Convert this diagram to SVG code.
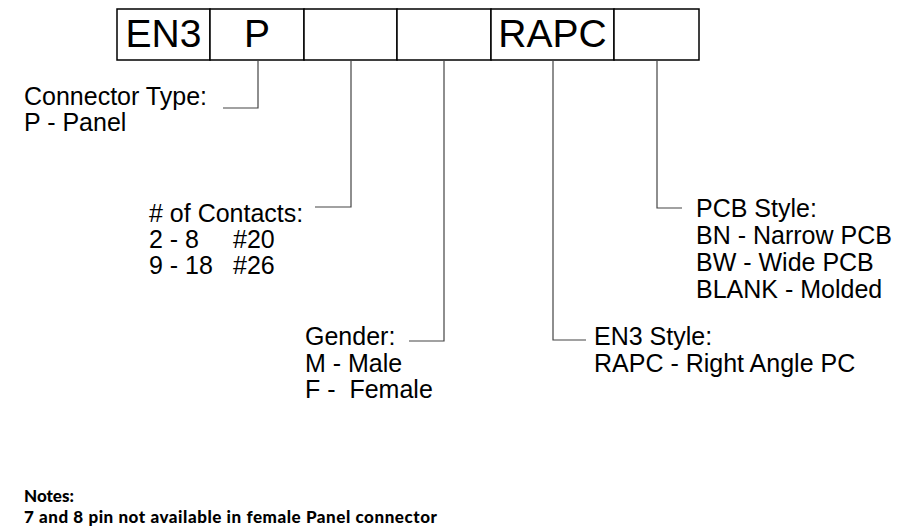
<svg xmlns="http://www.w3.org/2000/svg" width="907" height="527" viewBox="0 0 907 527">
<style>
.box{fill:#fff;stroke:#000;stroke-width:1.5}
.bt{font-family:"Liberation Sans",Arial,sans-serif;font-size:39px;fill:#000;text-anchor:middle}
.lb{font-family:"Liberation Sans",Arial,sans-serif;font-size:25px;fill:#000}
.cn{fill:none;stroke:#444;stroke-width:1.2}
.nt{font-family:Lato,"Open Sans",sans-serif;font-weight:900;font-size:17px;fill:#000}
</style>
<rect width="907" height="527" fill="#fff"/>
<g id="code">
<g id="box-en3"><rect class="box" x="117" y="9" width="93" height="51"/><text class="bt" x="163.5" y="47">EN3</text></g>
<g id="box-type"><rect class="box" x="210" y="9" width="94" height="51"/><text class="bt" x="257" y="47">P</text></g>
<g id="box-contacts"><rect class="box" x="304" y="9" width="93" height="51"/></g>
<g id="box-gender"><rect class="box" x="397" y="9" width="94" height="51"/></g>
<g id="box-style"><rect class="box" x="491" y="9" width="123" height="51"/><text class="bt" x="552.5" y="47">RAPC</text></g>
<g id="box-pcb"><rect class="box" x="614" y="9" width="85" height="51"/></g>
</g>
<g id="connectors">
<polyline class="cn" points="258,60 258,108 223,108"/>
<polyline class="cn" points="351,60 351,207 315,207"/>
<polyline class="cn" points="444,60 444,341 409,341"/>
<polyline class="cn" points="553,60 553,340 586,340"/>
<polyline class="cn" points="657,60 657,208 682,208"/>
</g>
<g id="label-type"><text class="lb" x="24" y="105">Connector Type:</text><text class="lb" x="24" y="131">P - Panel</text></g>
<g id="label-contacts"><text class="lb" x="149" y="222"># of Contacts:</text><text class="lb" y="248"><tspan x="149">2 - 8</tspan><tspan x="233">#20</tspan></text><text class="lb" y="274"><tspan x="149">9 - 18</tspan><tspan x="233">#26</tspan></text></g>
<g id="label-gender"><text class="lb" x="305" y="345">Gender:</text><text class="lb" x="305" y="372">M - Male</text><text class="lb" x="305" y="398" xml:space="preserve">F -  Female</text></g>
<g id="label-style"><text class="lb" x="594" y="345">EN3 Style:</text><text class="lb" x="594" y="372">RAPC - Right Angle PC</text></g>
<g id="label-pcb"><text class="lb" x="696" y="217">PCB Style:</text><text class="lb" x="696" y="244">BN - Narrow PCB</text><text class="lb" x="696" y="271">BW - Wide PCB</text><text class="lb" x="696" y="298">BLANK - Molded</text></g>
<g id="notes"><text class="nt" x="24" y="502">Notes:</text><text class="nt" x="24" y="523" textLength="413">7 and 8 pin not available in female Panel connector</text></g>
</svg>
